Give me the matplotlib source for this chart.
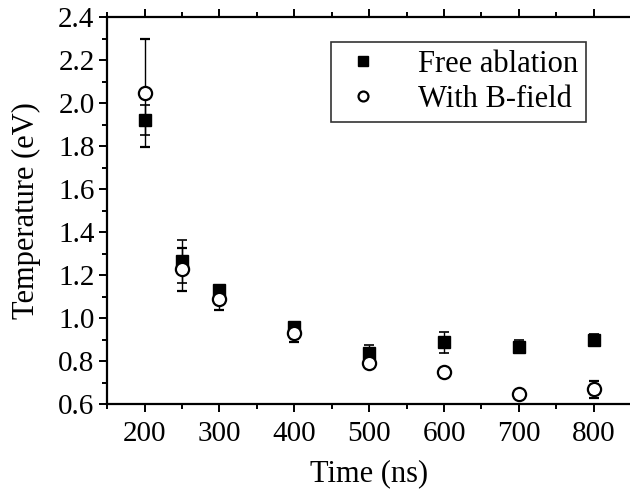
import matplotlib
matplotlib.use("Agg")
import matplotlib.pyplot as plt
from matplotlib.ticker import MultipleLocator

plt.rcParams['font.family'] = ['Liberation Serif', 'DejaVu Serif']

time_ns = [200, 250, 300, 400, 500, 600, 700, 800]
free_T = [1.92, 1.265, 1.13, 0.96, 0.836, 0.887, 0.866, 0.898]
free_err = [0.07, 0.10, 0.02, 0.02, 0.04, 0.05, 0.03, 0.03]
bfield_T = [2.048, 1.226, 1.088, 0.929, 0.79, 0.747, 0.647, 0.668]
bfield_err = [0.25, 0.10, 0.05, 0.04, 0.015, 0.015, 0.015, 0.04]

fig = plt.figure(figsize=(6.3, 4.9), dpi=100)
ax = fig.add_axes([0.17, 0.1755, 0.832, 0.7895])

ax.errorbar(time_ns, free_T, yerr=free_err, fmt='s', color='black', ms=9,
            mfc='black', mec='black', ecolor='black', elinewidth=1.0,
            capsize=3.3, capthick=1.2, label='Free ablation', zorder=3)
ax.errorbar(time_ns, bfield_T, yerr=bfield_err, fmt='o', color='black', ms=9.5,
            mfc='white', mec='black', mew=1.6, ecolor='black', elinewidth=1.0,
            capsize=3.3, capthick=1.2, label='With B-field', zorder=4)

ax.set_xlim(150, 850)
ax.set_ylim(0.6, 2.4)
ax.xaxis.set_major_locator(MultipleLocator(100))
ax.xaxis.set_minor_locator(MultipleLocator(50))
ax.yaxis.set_major_locator(MultipleLocator(0.2))
ax.yaxis.set_minor_locator(MultipleLocator(0.1))
ax.yaxis.set_major_formatter(matplotlib.ticker.FormatStrFormatter('%.1f'))

for s in ax.spines.values():
    s.set_linewidth(1.6)
ax.tick_params(which='both', direction='out', top=True, right=False, width=1.4)
ax.tick_params(which='major', length=6, labelsize=21, pad=3)
ax.tick_params(axis='x', which='major', pad=6)
ax.tick_params(which='minor', length=3.5)
ax.tick_params(axis='x', which='both', labeltop=False)

ax.set_xlabel('Time (ns)', fontsize=22, labelpad=9)
ax.set_ylabel('Temperature (eV)', fontsize=22, labelpad=12)

handles, labels = ax.get_legend_handles_labels()
handles = [h[0] for h in handles]
leg = ax.legend(handles, labels, loc='upper right', bbox_to_anchor=(0.914, 0.935),
                fontsize=22, frameon=True, fancybox=False, edgecolor='black',
                markerscale=0.75, handlelength=1.6, handletextpad=1.0,
                borderpad=0.25, labelspacing=0.2, borderaxespad=0)
leg.get_frame().set_linewidth(1.2)

fig.savefig('out.png', dpi=100)
